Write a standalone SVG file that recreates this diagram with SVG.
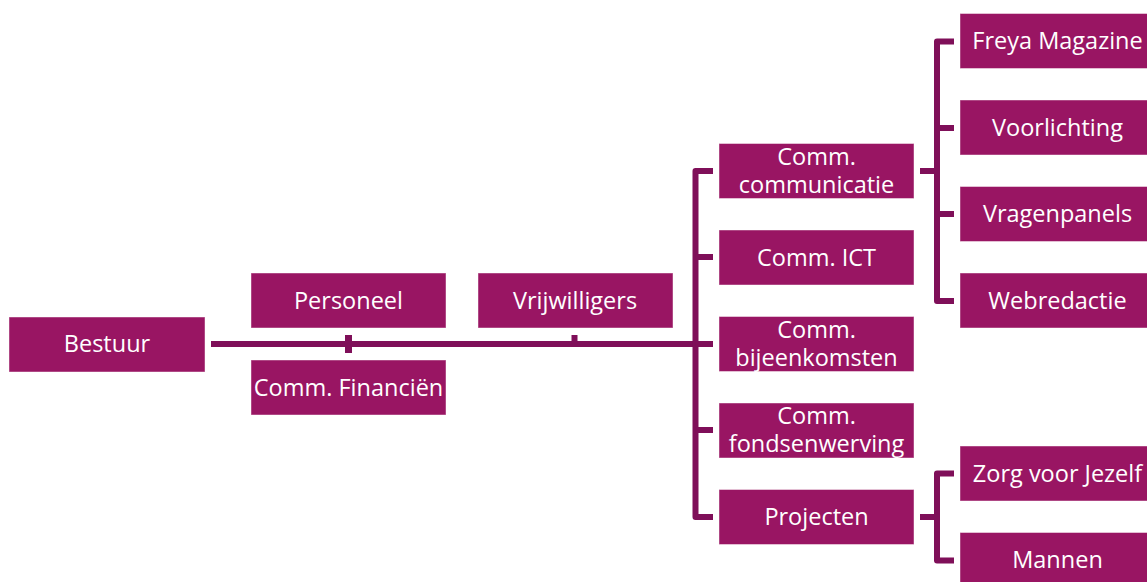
<svg xmlns="http://www.w3.org/2000/svg" width="1147" height="582" viewBox="0 0 1147 582">
<style>
.box{fill:#991563;stroke:#ffffff;stroke-opacity:0.45;stroke-width:1}
.t{font-family:"Open Sans","Liberation Sans",sans-serif;font-size:23.5px;fill:#ffffff;text-anchor:middle}
.c{fill:none;stroke:#7f0f59;stroke-width:6;stroke-linejoin:round}
</style>
<rect width="1147" height="582" fill="#ffffff"/>
<g id="connectors">
<path class="c" d="M211,344 H695.5"/>
<path class="c" d="M348.5,335 V353" style="stroke-width:7"/>
<path class="c" d="M574.5,335 V344"/>
<path class="c" d="M713,171 H695.5 V517 H713"/>
<path class="c" d="M695.5,257 H713 M695.5,344 H713 M695.5,430 H713"/>
<path class="c" d="M920,171 H937"/>
<path class="c" d="M954,41.5 H937 V301 H954"/>
<path class="c" d="M937,128 H954 M937,214 H954"/>
<path class="c" d="M920,517 H937"/>
<path class="c" d="M954,473.5 H937 V560.5 H954"/>
</g>
<g id="bestuur"><rect class="box" x="9" y="317" width="196" height="55"/><text class="t" x="107" y="352">Bestuur</text></g>
<g id="personeel"><rect class="box" x="251" y="273" width="195" height="55"/><text class="t" x="348.5" y="308.5">Personeel</text></g>
<g id="financien"><rect class="box" x="251" y="360" width="195" height="55"/><text class="t" x="348.5" y="395.5">Comm. Financiën</text></g>
<g id="vrijwilligers"><rect class="box" x="478" y="273" width="195" height="55"/><text class="t" x="575" y="308.5">Vrijwilligers</text></g>
<g id="communicatie"><rect class="box" x="719" y="143.5" width="195" height="55"/><text class="t"><tspan x="816.5" y="164.5">Comm.</tspan><tspan x="816.5" y="192.5">communicatie</tspan></text></g>
<g id="ict"><rect class="box" x="719" y="230" width="195" height="55"/><text class="t" x="816.5" y="265.5">Comm. ICT</text></g>
<g id="bijeenkomsten"><rect class="box" x="719" y="316.5" width="195" height="55"/><text class="t"><tspan x="816.5" y="337.5">Comm.</tspan><tspan x="816.5" y="365.5">bijeenkomsten</tspan></text></g>
<g id="fondsenwerving"><rect class="box" x="719" y="403" width="195" height="55"/><text class="t"><tspan x="816.5" y="424">Comm.</tspan><tspan x="816.5" y="452">fondsenwerving</tspan></text></g>
<g id="projecten"><rect class="box" x="719" y="489.5" width="195" height="55"/><text class="t" x="816.5" y="525">Projecten</text></g>
<g id="freya"><rect class="box" x="960" y="13.5" width="195" height="55"/><text class="t" x="1057.5" y="49">Freya Magazine</text></g>
<g id="voorlichting"><rect class="box" x="960" y="100" width="195" height="55"/><text class="t" x="1057.5" y="135.5">Voorlichting</text></g>
<g id="vragenpanels"><rect class="box" x="960" y="186.5" width="195" height="55"/><text class="t" x="1057.5" y="222">Vragenpanels</text></g>
<g id="webredactie"><rect class="box" x="960" y="273" width="195" height="55"/><text class="t" x="1057.5" y="308.5">Webredactie</text></g>
<g id="zorg"><rect class="box" x="960" y="446" width="195" height="55"/><text class="t" x="1057.5" y="481.5">Zorg voor Jezelf</text></g>
<g id="mannen"><rect class="box" x="960" y="532.5" width="195" height="55"/><text class="t" x="1057.5" y="568">Mannen</text></g>
</svg>
